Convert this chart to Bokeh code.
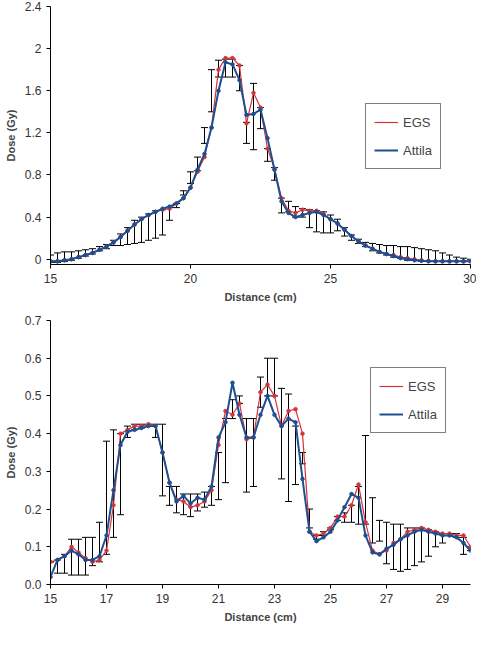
import numpy as np
from bokeh.plotting import figure
from bokeh.layouts import column
from bokeh.models import ColumnDataSource, Whisker, TeeHead, Label, Legend, LegendItem, FixedTicker, Range1d
from bokeh.embed import file_html
from bokeh.resources import INLINE

# ---------- Panel A data ----------
xa = np.arange(15.0, 30.01, 0.25)
attila_a = [-0.02,-0.02,-0.01,0.0,0.02,0.04,0.06,0.09,0.12,0.16,0.21,0.27,0.33,0.38,0.42,0.45,0.48,0.50,0.53,0.58,
            0.68,0.85,1.0,1.25,1.6,1.87,1.85,1.7,1.37,1.38,1.42,1.15,0.85,0.55,0.44,0.40,0.42,0.44,0.45,0.42,
            0.38,0.34,0.28,0.22,0.17,0.13,0.10,0.07,0.05,0.03,0.01,0.0,-0.01,-0.015,-0.02,-0.02,-0.02,-0.02,-0.02,-0.02,-0.02]
egs_a = [-0.02,-0.02,-0.01,0.0,0.02,0.04,0.06,0.09,0.12,0.16,0.21,0.27,0.33,0.38,0.42,0.45,0.47,0.48,0.53,0.58,
         0.68,0.83,0.97,1.25,1.8,1.91,1.91,1.84,1.29,1.58,1.44,1.05,0.86,0.58,0.46,0.44,0.47,0.46,0.46,0.43,
         0.38,0.34,0.28,0.22,0.17,0.13,0.10,0.07,0.05,0.04,0.02,0.01,0.0,-0.01,-0.015,-0.02,-0.02,-0.02,-0.02,-0.02,-0.02]
lo_a = [-0.03,-0.03,-0.02,-0.01,0.01,0.03,0.05,0.08,0.10,0.13,0.13,0.14,0.15,0.16,0.18,0.20,0.23,0.37,0.49,0.61,
        0.72,0.84,1.10,1.40,1.73,1.73,1.73,1.60,1.10,1.04,1.24,0.93,0.75,0.44,0.45,0.40,0.40,0.30,0.26,0.25,
        0.25,0.27,0.22,0.18,0.15,0.12,0.08,0.06,0.04,0.02,0.01,-0.01,-0.01,-0.02,-0.02,-0.02,-0.02,-0.02,-0.02,-0.02,-0.02]
hi_a = [0.04,0.06,0.07,0.07,0.08,0.09,0.10,0.12,0.14,0.18,0.24,0.30,0.37,0.40,0.43,0.46,0.47,0.49,0.53,0.65,
        0.83,0.97,1.25,1.80,1.89,1.90,1.90,1.84,1.30,1.67,1.44,1.05,0.87,0.58,0.55,0.50,0.48,0.47,0.46,0.45,
        0.42,0.38,0.30,0.23,0.19,0.16,0.15,0.14,0.13,0.13,0.12,0.12,0.11,0.10,0.09,0.08,0.06,0.04,0.02,0.01,0.0]

# ---------- Panel B data ----------
xb = np.arange(15.0, 30.01, 0.25)
attila_b = [0.02,0.065,0.075,0.09,0.08,0.065,0.065,0.075,0.13,0.25,0.37,0.405,0.41,0.415,0.42,0.42,0.35,0.27,0.22,0.235,
            0.215,0.23,0.225,0.26,0.39,0.43,0.535,0.45,0.39,0.39,0.45,0.50,0.45,0.42,0.44,0.43,0.28,0.14,0.115,0.125,
            0.14,0.17,0.205,0.24,0.23,0.13,0.085,0.08,0.095,0.105,0.12,0.13,0.14,0.145,0.14,0.135,0.13,0.13,0.125,0.11,0.09]
egs_b = [0.06,0.065,0.075,0.10,0.085,0.07,0.06,0.065,0.09,0.21,0.40,0.41,0.42,0.42,0.425,0.42,0.35,0.27,0.225,0.22,
         0.205,0.21,0.22,0.25,0.37,0.46,0.45,0.48,0.385,0.39,0.51,0.53,0.50,0.42,0.46,0.465,0.40,0.14,0.13,0.135,
         0.15,0.18,0.18,0.21,0.265,0.165,0.09,0.08,0.09,0.11,0.12,0.14,0.145,0.15,0.145,0.14,0.135,0.135,0.13,0.13,0.10]
lo_b = [0.06,0.03,0.03,0.025,0.025,0.025,0.05,0.06,0.08,0.125,0.185,0.39,0.41,0.415,0.42,0.39,0.235,0.21,0.19,0.185,
        0.18,0.195,0.205,0.21,0.225,0.27,0.44,0.48,0.245,0.26,0.47,0.50,0.50,0.28,0.22,0.265,0.32,0.15,0.12,0.13,
        0.145,0.17,0.165,0.165,0.16,0.16,0.11,0.115,0.055,0.04,0.035,0.04,0.05,0.06,0.075,0.10,0.11,0.13,0.125,0.08,0.09]
hi_b = [0.06,0.065,0.08,0.12,0.12,0.125,0.125,0.165,0.38,0.41,0.40,0.42,0.425,0.425,0.425,0.425,0.425,0.26,0.26,0.24,
        0.24,0.24,0.245,0.26,0.35,0.44,0.49,0.50,0.44,0.44,0.55,0.60,0.60,0.52,0.505,0.42,0.35,0.20,0.13,0.14,
        0.15,0.18,0.19,0.21,0.26,0.395,0.23,0.17,0.165,0.16,0.16,0.15,0.15,0.15,0.145,0.14,0.135,0.135,0.135,0.125,0.10]

RED = "#d6333b"
BLUE = "#1d4f91"
FONT = "Liberation Sans"

def panel(x, att, egs, lo, hi, yr, yticks, xticks, h, legend_loc, letter, yfmt):
    p = figure(width=476, height=h, output_backend="svg", toolbar_location=None,
               x_range=Range1d(15, 30), y_range=Range1d(*yr),
               min_border_left=50, min_border_right=6, min_border_top=6, min_border_bottom=48)
    p.outline_line_color = None
    p.xgrid.visible = False
    p.ygrid.visible = False
    src = ColumnDataSource(dict(x=x, lo=lo, hi=hi))
    w = Whisker(source=src, base="x", lower="lo", upper="hi", line_color="black", line_width=1,
                upper_head=TeeHead(size=7, line_color="black"), lower_head=TeeHead(size=7, line_color="black"))
    p.add_layout(w)
    r1 = p.line(x, egs, color=RED, line_width=1.2)
    p.scatter(x, egs, color=RED, size=3.5)
    r2 = p.line(x, att, color=BLUE, line_width=2)
    p.scatter(x, att, color=BLUE, size=3.5)
    leg = Legend(items=[LegendItem(label="EGS", renderers=[r1]),
                        LegendItem(label="Attila", renderers=[r2])],
                 location=legend_loc, border_line_color="black", border_line_width=1,
                 label_text_font=FONT, label_text_font_size="13px", spacing=8,
                 glyph_width=24, padding=8, background_fill_alpha=1)
    p.add_layout(leg)
    for ax in (p.xaxis, p.yaxis):
        ax.major_label_text_font = FONT
        ax.major_label_text_font_size = "12px"
        ax.major_label_text_color = "#333333"
        ax.axis_label_text_font = FONT
        ax.axis_label_text_font_size = "11px"
        ax.axis_label_text_font_style = "bold"
        ax.minor_tick_line_color = None
        ax.major_tick_in = 0
        ax.major_tick_out = 4
    p.xaxis.axis_label = "Distance (cm)"
    p.yaxis.axis_label = "Dose (Gy)"
    p.xaxis.ticker = FixedTicker(ticks=xticks)
    p.yaxis.ticker = FixedTicker(ticks=yticks)
    p.yaxis.major_label_overrides = {t: yfmt(t) for t in yticks}
    p.add_layout(Label(x=-48, y=-42, x_units="screen", y_units="screen", text=letter,
                       text_font=FONT, text_font_size="12px", text_font_style="bold"))
    return p

pa = panel(xa, attila_a, egs_a, lo_a, hi_a, (-0.05, 2.4), [0, 0.4, 0.8, 1.2, 1.6, 2, 2.4],
           [15, 20, 25, 30], 312, (315, 95), "A", lambda t: ("%g" % t))
pb = panel(xb, attila_b, egs_b, lo_b, hi_b, (0, 0.7), [0, 0.1, 0.2, 0.3, 0.4, 0.5, 0.6, 0.7],
           [15, 17, 19, 21, 23, 25, 27, 29], 318, (320, 151), "B", lambda t: ("%.1f" % t))

open("out.html", "w").write(file_html(column(pa, pb, spacing=2), INLINE))
